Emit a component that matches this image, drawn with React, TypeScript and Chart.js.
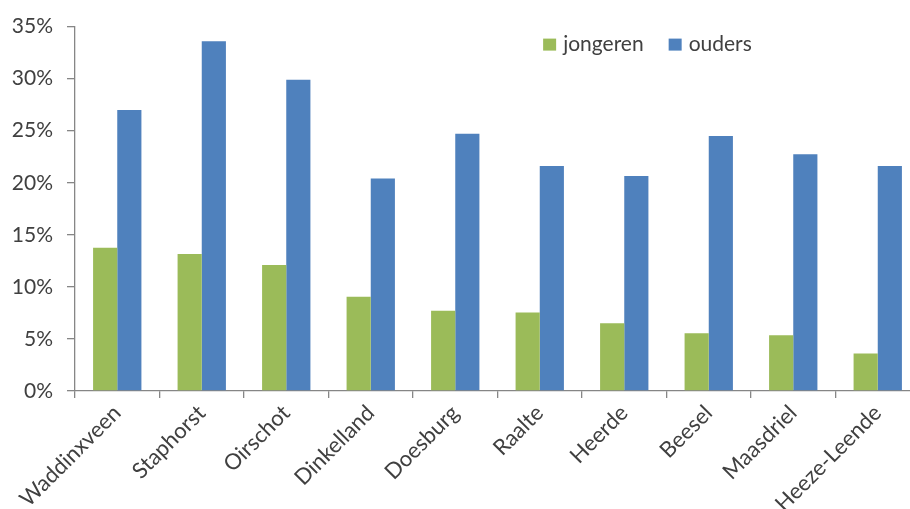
import React, { useEffect, useRef } from "react";
import { Chart, registerables } from "chart.js";

Chart.register(...registerables);

const categories = [
  "Waddinxveen",
  "Staphorst",
  "Oirschot",
  "Dinkelland",
  "Doesburg",
  "Raalte",
  "Heerde",
  "Beesel",
  "Maasdriel",
  "Heeze-Leende",
];
const jongeren = [13.75, 13.15, 12.1, 9.05, 7.7, 7.55, 6.5, 5.55, 5.35, 3.6];
const ouders = [27.0, 33.6, 29.9, 20.4, 24.7, 21.6, 20.65, 24.5, 22.75, 21.6];
const seriesNames = ["jongeren", "ouders"];
const yTicks = [0, 5, 10, 15, 20, 25, 30, 35];

const GREEN = "#9BBB59";
const BLUE = "#4F81BD";
const AXIS = "#868686";
const TEXT = "#404040";
const FONT = "Lato, 'Open Sans', sans-serif";

const legendPlugin = {
  id: "customLegend",
  afterDraw(chart: any) {
    const { ctx, chartArea } = chart;
    ctx.save();
    ctx.font = `21px ${FONT}`;
    ctx.textBaseline = "middle";
    ctx.fillStyle = TEXT;
    let x = chartArea.left + chartArea.width * 0.554;
    const y = chartArea.top + 18;
    chart.data.datasets.forEach((ds: any) => {
      ctx.fillStyle = ds.backgroundColor;
      ctx.fillRect(x, y - 6, 13, 12);
      ctx.fillStyle = TEXT;
      ctx.fillText(ds.label, x + 20, y);
      x += 20 + ctx.measureText(ds.label).width + 25;
    });
    ctx.restore();
  },
};

export default function App() {
  const ref = useRef<HTMLCanvasElement>(null);
  useEffect(() => {
    if (!ref.current) return;
    const chart = new Chart(ref.current, {
      type: "bar",
      data: {
        labels: categories,
        datasets: [
          { label: seriesNames[0], data: jongeren, backgroundColor: GREEN },
          { label: seriesNames[1], data: ouders, backgroundColor: BLUE },
        ],
      },
      options: {
        responsive: false,
        animation: false,
        devicePixelRatio: 1,
        layout: { padding: { top: 25, left: 0, right: 0, bottom: 0 } },
        datasets: {
          bar: { categoryPercentage: 0.572, barPercentage: 1.0 },
        },
        plugins: {
          legend: { display: false },
          tooltip: { enabled: false },
        },
        scales: {
          x: {
            border: { color: AXIS, width: 1.3 },
            grid: {
              offset: true,
              drawOnChartArea: false,
              drawTicks: true,
              tickLength: 7,
              color: AXIS,
              lineWidth: 1.3,
            },
            ticks: {
              autoSkip: false,
              minRotation: 45,
              maxRotation: 45,
              padding: 2,
              color: TEXT,
              font: { family: FONT, size: 22 },
            },
            afterFit(scale: any) {
              scale.height = 118;
            },
          },
          y: {
            min: 0,
            max: 35,
            afterBuildTicks(scale: any) {
              scale.ticks = yTicks.map((v) => ({ value: v }));
            },
            border: { color: AXIS, width: 1.3 },
            grid: {
              drawOnChartArea: false,
              drawTicks: true,
              tickLength: 8,
              color: AXIS,
              lineWidth: 1.3,
            },
            ticks: {
              padding: 14,
              color: TEXT,
              font: { family: FONT, size: 21 },
              callback: (v: any) => `${v}%`,
            },
            afterFit(scale: any) {
              scale.width = 75;
            },
          },
        },
      },
      plugins: [legendPlugin],
    });
    return () => chart.destroy();
  }, []);
  return (
    <div
      style={{
        position: "fixed",
        left: 0,
        top: 0,
        width: 910,
        height: 509,
        overflow: "hidden",
        background: "#fff",
      }}
    >
      <canvas ref={ref} width={920} height={509} style={{ display: "block" }} />
    </div>
  );
}
